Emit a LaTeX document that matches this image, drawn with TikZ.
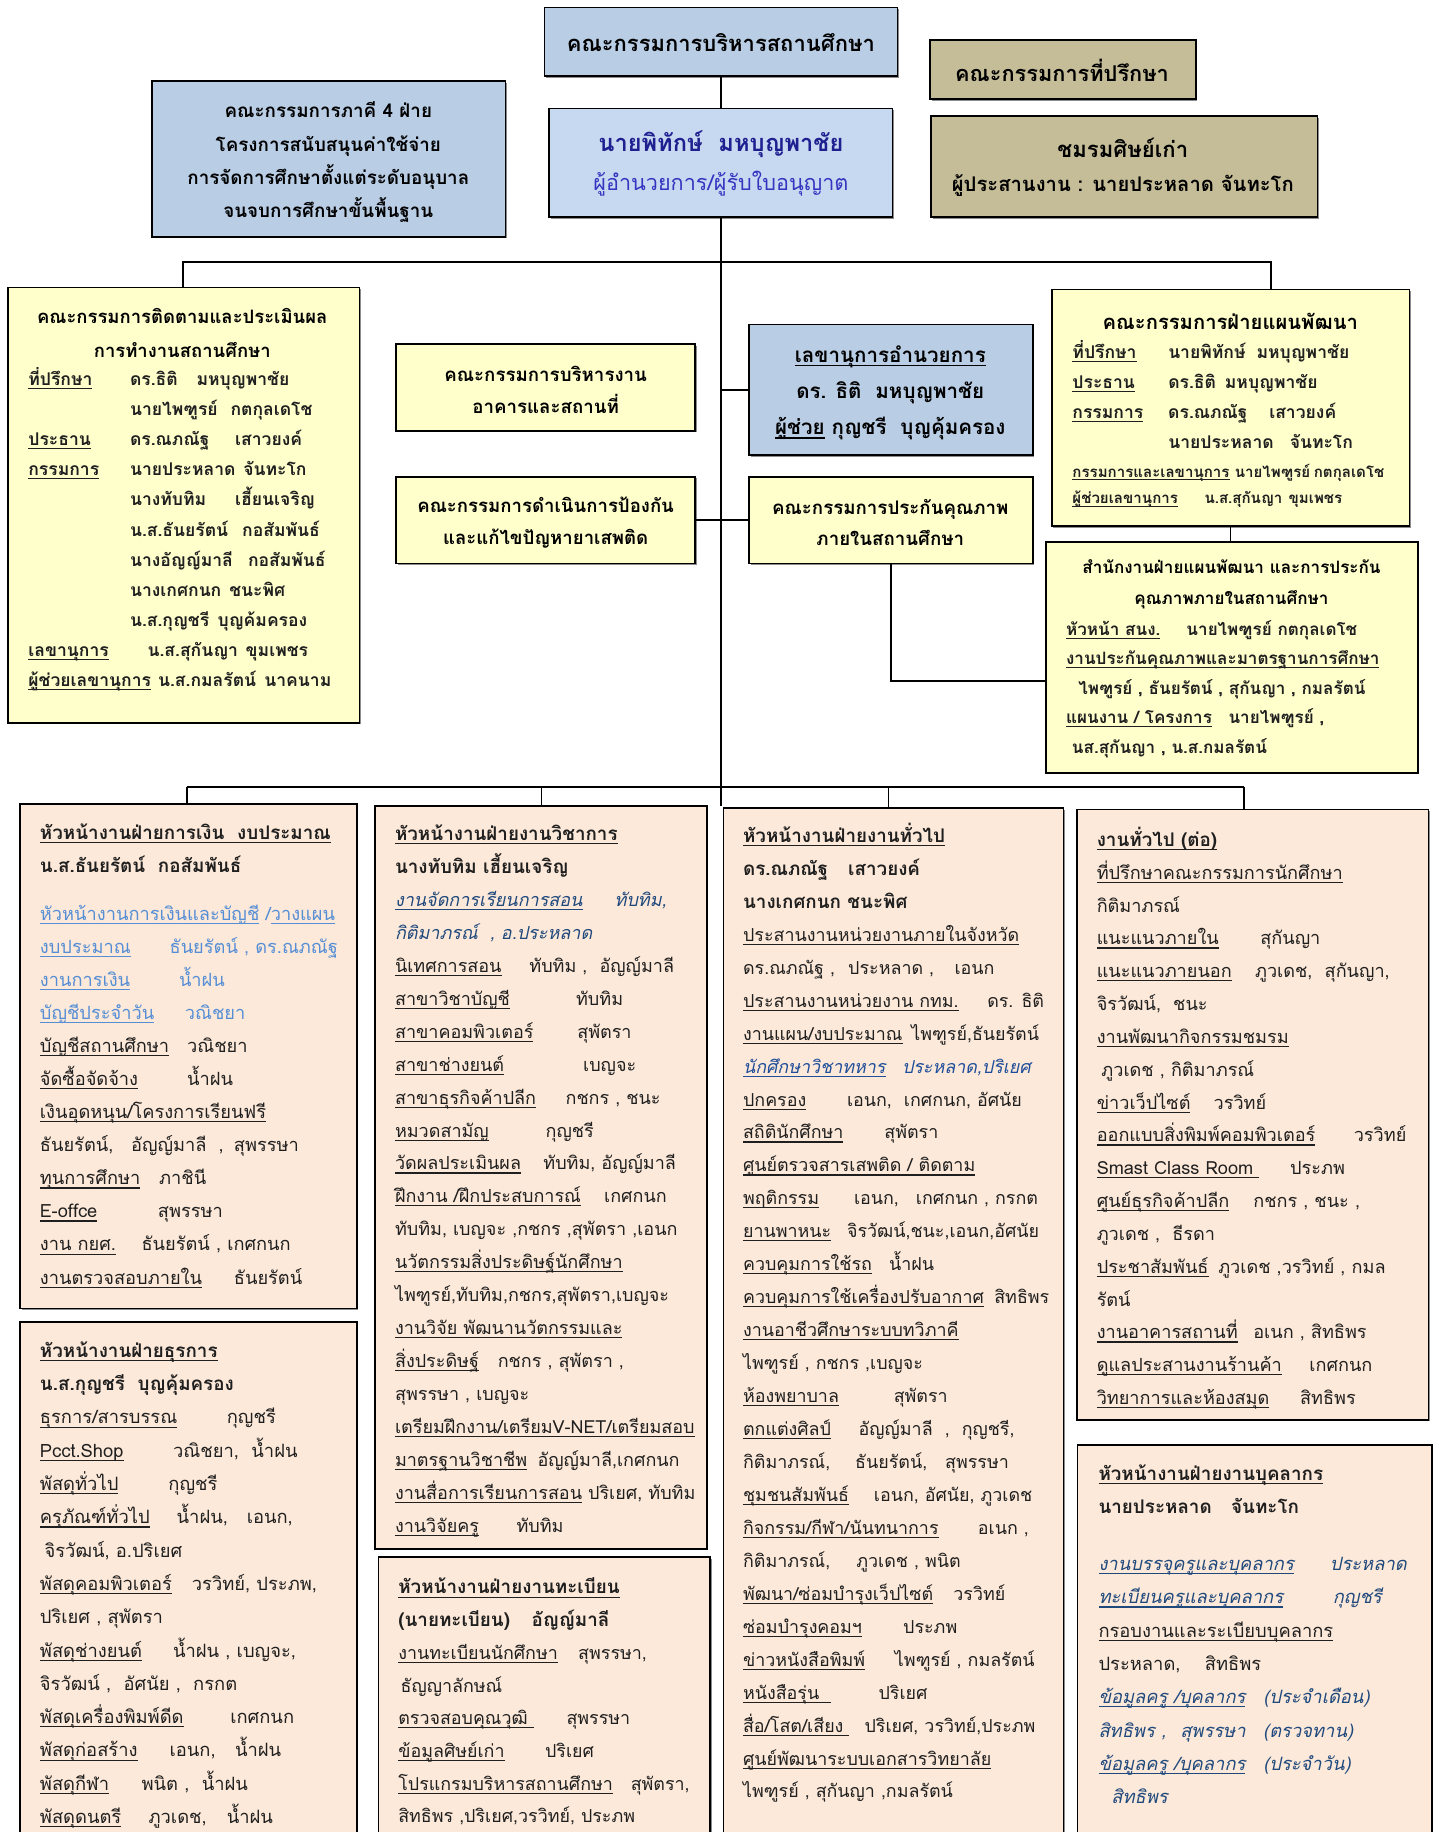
\documentclass[tikz,border=0pt]{standalone}
\usepackage{fontspec}
\setmainfont[Script=Thai]{Loma}
\usetikzlibrary{fit,shadows}
\definecolor{cblue}{HTML}{B9CDE5}
\definecolor{cdir}{HTML}{C6D9F1}
\definecolor{ckhaki}{HTML}{C4BD97}
\definecolor{cyel}{HTML}{FFFFCC}
\definecolor{cpeach}{HTML}{FDE9D9}
\definecolor{tnavy}{HTML}{1F2090}
\definecolor{tblue}{HTML}{3535C0}
\definecolor{tlight}{HTML}{558ED5}
\definecolor{tital}{HTML}{1F497D}
\definecolor{tgen}{HTML}{1F4E9A}
\newcommand\uln[1]{\leavevmode\setbox0\hbox{#1}\rlap{\rule[-0.2em]{\wd0}{0.06em}}\box0\relax}
\newcommand\tb[2]{\makebox[#1pt][l]{#2}}
\newcommand\fsz[2]{\fontsize{#1}{#2}\selectfont}
\newcommand\hd[1]{{\fontsize{16.1}{10}\selectfont\bfseries #1}}
\tikzset{
  bx/.style={draw=black, line width=1.4pt, inner sep=0pt, outer sep=0pt,
    drop shadow={shadow xshift=1.4pt, shadow yshift=-1.4pt, fill=black!45, opacity=1}},
  ln/.style={line width=1.4pt, draw=black},
  lst/.style={anchor=north west, inner sep=0pt, outer sep=0pt, align=left, text=black!88},
  ctr/.style={anchor=center, inner sep=0pt, outer sep=0pt, align=center, text=black},
}
\begin{document}
\begin{tikzpicture}[x=1pt,y=-1pt]
\useasboundingbox (0,0) rectangle (1230,1568);
\clip (0,0) rectangle (1230,1568);
\fill[white] (0,0) rectangle (1230,1568);

% ---------- boxes ----------
\node[bx,fill=cblue,fit={(466,6.3)(768,65)}] (top) {};
\node[bx,fill=ckhaki,fit={(796,34)(1023.5,85)}] (adv) {};
\node[bx,fill=cblue,fit={(130,69.3)(432.5,202.6)}] (quad) {};
\node[bx,fill=cdir,fit={(470,93)(764,186)}] (dir) {};
\node[bx,fill=ckhaki,fit={(797,99.3)(1127.5,186)}] (alum) {};
\node[bx,fill=cyel,fit={(7.1,246)(307.6,618.6)}] (mon) {};
\node[bx,fill=cyel,fit={(339,294.5)(595,368.7)}] (bld) {};
\node[bx,fill=cblue,fit={(641,277.6)(884,389.5)}] (sec) {};
\node[bx,fill=cyel,fit={(339,408)(595,482.2)}] (drug) {};
\node[bx,fill=cyel,fit={(641,408)(884,482.2)}] (qa) {};
\node[bx,fill=cyel,fit={(900.2,247.7)(1206.3,450.3)}] (comm) {};
\node[bx,fill=cyel,fit={(895.3,463.7)(1213.4,661.4)}] (ofc) {};
\node[bx,fill=cpeach,fit={(17.1,688.3)(305.3,1120)}] (fin) {};
\node[bx,fill=cpeach,fit={(321,689.8)(604.9,1325.5)}] (acad) {};
\node[bx,fill=cpeach,fit={(323.8,1332.5)(607.7,1590)}] (reg) {};
\node[bx,fill=cpeach,fit={(619.1,691.7)(910.1,1590)}] (gen) {};
\node[bx,fill=cpeach,fit={(921.6,692.8)(1222.6,1215.1)}] (genx) {};
\node[bx,fill=cpeach,fit={(922.2,1236.8)(1225.5,1590)}] (pers) {};
\node[bx,fill=cpeach,fit={(17.1,1131.3)(305.3,1590)}] (busi) {};

% ---------- connectors ----------
\coordinate (tend) at (617,690);
\coordinate (b1l) at (156.5,224);
\coordinate (b1r) at (1088,224);
\coordinate (qj) at (895.3,583);
\coordinate (b2l) at (160,673.5);
\coordinate (b2r) at (1064.8,673.5);
\coordinate (d2) at (463.6,673.5);
\coordinate (d3) at (760.4,673.5);
\draw[ln] (top.south) -- (dir.north);
\draw[ln] (dir.south) -- (tend);
\draw[ln] (b1l |- mon.north) -- (b1l) -- (b1r) -- (b1r |- comm.north);
\draw[ln] (sec.west) -- (sec.west -| tend);
\draw[ln] (drug.east) -- (qa.west);
\draw[ln] (qa.south) |- (qj);
\draw[ln] (comm.south) -- (comm.south |- ofc.north);
\draw[ln] (b2l) -- (b2r);
\draw[ln] (b2l) -- (b2l |- fin.north);
\draw[ln] (d2) -- (d2 |- acad.north);
\draw[ln] (d3) -- (d3 |- gen.north);
\draw[ln] (b2r) -- (b2r |- genx.north);

% ---------- top texts ----------
\node[ctr,font=\bfseries\fsz{18.8}{22}] (t-top) at (617,36.5) {คณะกรรมการบริหารสถานศึกษา};
\node[ctr,font=\bfseries\fsz{18.6}{20}] (t-adv) at (909,60) {คณะกรรมการที่ปรึกษา};
\node[ctr,font=\bfseries\fsz{16.1}{28.3}] (t-quad) at (281,138.7) {คณะกรรมการภาคี 4 ฝ่าย\\โครงการสนับสนุนค่าใช้จ่าย\\การจัดการศึกษาตั้งแต่ระดับอนุบาล\\จนจบการศึกษาขั้นพื้นฐาน};
\node[ctr,font=\fsz{18}{33}] (t-dir) at (617,139.7) {{\bfseries\color{tnavy}\fsz{20.2}{33}นายพิทักษ์\ \ มหบุญพาชัย}\\{\color{tblue}\fsz{18.5}{33}ผู้อำนวยการ/ผู้รับใบอนุญาต}};
\node[ctr,font=\bfseries\fsz{17.3}{29}] (t-alum) at (961,143) {{\fsz{18.9}{29}ชมรมศิษย์เก่า}\\ผู้ประสานงาน : นายประหลาด จันทะโก};

% ---------- middle texts ----------
\node[ctr,font=\bfseries\fsz{15.8}{29}] (t-mon1) at (156,285) {คณะกรรมการติดตามและประเมินผล\\การทำงานสถานศึกษา};
\node[lst,font=\bfseries\fsz{15}{25.8},yshift=13.6pt] (t-mon2) at (24.3,325.3) {\strut\tb{87}{\uln{ที่ปรึกษา}}\tb{57}{ดร.ธิติ}มหบุญพาชัย\\
\tb{87}{}\tb{86}{นายไพฑูรย์}กตกุลเดโช\\
\tb{87}{\uln{ประธาน}}\tb{90}{ดร.ณภณัฐ}เสาวยงค์\\
\tb{87}{\uln{กรรมการ}}\tb{97}{นายประหลาด}จันทะโก\\
\tb{87}{}\tb{90}{นางทับทิม}เฮี้ยนเจริญ\\
\tb{87}{}\tb{96}{น.ส.ธันยรัตน์}กอสัมพันธ์\\
\tb{87}{}\tb{101}{นางอัญญ์มาลี}กอสัมพันธ์\\
\tb{87}{}\tb{85}{นางเกศกนก}ชนะพิศ\\
\tb{87}{}\tb{75}{น.ส.กุญชรี}บุญค้มครอง\\
\tb{102}{\uln{เลขานุการ}}\tb{84}{น.ส.สุกันญา}ขุมเพชร\\
\tb{111}{\uln{ผู้ช่วยเลขานุการ}}\tb{91}{น.ส.กมลรัตน์}นาคนาม};

\node[ctr,font=\bfseries\fsz{16}{27.5}] (t-bld) at (467,333.7) {คณะกรรมการบริหารงาน\\อาคารและสถานที่};
\node[ctr,font=\bfseries\fsz{17.6}{31}] (t-sec) at (762,336) {\uln{เลขานุการอำนวยการ}\\ดร. ธิติ\ \ มหบุญพาชัย\\\uln{ผู้ช่วย} กุญชรี\ \ บุญคุ้มครอง};
\node[ctr,font=\bfseries\fsz{15.9}{27}] (t-drug) at (467,447.3) {คณะกรรมการดำเนินการป้องกัน\\และแก้ไขปัญหายาเสพติด};
\node[ctr,font=\bfseries\fsz{16}{27}] (t-qa) at (762,447.3) {คณะกรรมการประกันคุณภาพ\\ภายในสถานศึกษา};

\node[ctr,font=\bfseries\fsz{17.3}{20}] (t-comm1) at (1053,275.4) {คณะกรรมการฝ่ายแผนพัฒนา};
\node[lst,font=\bfseries\fsz{15}{25.7},yshift=13.5pt] (t-comm2) at (917.9,302.5) {\strut\tb{82}{\uln{ที่ปรึกษา}}\tb{75.6}{นายพิทักษ์}มหบุญพาชัย\\
\tb{82}{\uln{ประธาน}}\tb{48.5}{ดร.ธิติ}มหบุญพาชัย\\
\tb{82}{\uln{กรรมการ}}\tb{86.5}{ดร.ณภณัฐ}เสาวยงค์\\
\tb{82}{}\tb{104}{นายประหลาด}จันทะโก};
\node[lst,font=\bfseries\fsz{12.9}{22.8},yshift=12.1pt] (t-comm3) at (917.9,404.6) {\strut\tb{139}{\uln{กรรมการและเลขานุการ}}\tb{67.6}{นายไพฑูรย์}กตกุลเดโช\\
\tb{113}{\uln{ผู้ช่วยเลขานุการ}}\tb{72}{น.ส.สุกันญา}ขุมเพชร};

\node[ctr,font=\bfseries\fsz{14.6}{27.1}] (t-ofc1) at (1054,500) {สำนักงานฝ่ายแผนพัฒนา และการประกัน\\คุณภาพภายในสถานศึกษา};
\node[lst,font=\bfseries\fsz{14.6}{25.3},yshift=13.3pt] (t-ofc2) at (912.5,539.3) {\strut\tb{103}{\uln{หัวหน้า สนง.}}นายไพฑูรย์ กตกุลเดโช\\
\uln{งานประกันคุณภาพและมาตรฐานการศึกษา}\\
\hspace*{10.5pt}ไพฑูรย์ , ธันยรัตน์ , สุกันญา , กมลรัตน์\\
\tb{139}{\uln{แผนงาน / โครงการ}}นายไพฑูรย์ ,\\
\hspace*{5pt}นส.สุกันญา , น.ส.กมลรัตน์};

% ---------- finance ----------
\node[lst,font=\fsz{15.6}{28.3},yshift=15.1pt] (t-fin) at (34.2,713.4) {\strut\hd{\uln{หัวหน้างานฝ่ายการเงิน\ \ งบประมาณ}}\\
\hd{น.ส.ธันยรัตน์\ \ กอสัมพันธ์}\\[13pt]
{\color{tlight}\uln{หัวหน้างานการเงินและบัญชี} /\uln{วางแผน}}\\
{\color{tlight}\tb{111}{\uln{งบประมาณ}}ธันยรัตน์ , ดร.ณภณัฐ}\\
{\color{tlight}\tb{119}{\uln{งานการเงิน}}น้ำฝน}\\
{\color{tlight}\tb{124}{\uln{บัญชีประจำวัน}}วณิชยา}\\
\tb{126}{\uln{บัญชีสถานศึกษา}}วณิชยา\\
\tb{126}{\uln{จัดซื้อจัดจ้าง}}น้ำฝน\\
\uln{เงินอุดหนุน/โครงการเรียนฟรี}\\
\tb{78}{ธันยรัตน์,}\tb{75}{อัญญ์มาลี}\tb{13}{,}สุพรรษา\\
\tb{102}{\uln{ทุนการศึกษา}}ภาชินี\\
\tb{101}{\uln{E-offce}}สุพรรษา\\
\tb{87}{\uln{งาน กยศ.}}ธันยรัตน์ , เกศกนก\\
\tb{166}{\uln{งานตรวจสอบภายใน}}ธันยรัตน์};

% ---------- academic ----------
\node[lst,font=\fsz{15.4}{28.2},yshift=15.1pt] (t-acad) at (338.1,714.7) {\strut\hd{\uln{หัวหน้างานฝ่ายงานวิชาการ}}\\
\hd{นางทับทิม เฮี้ยนเจริญ}\\
{\itshape\color{tital}\tb{188}{\uln{งานจัดการเรียนการสอน}}ทับทิม,}\\
{\itshape\color{tital}กิติมาภรณ์\ \ , อ.ประหลาด}\\
\tb{115}{\uln{นิเทศการสอน}}ทับทิม ,\ \ อัญญ์มาลี\\
\tb{155}{\uln{สาขาวิชาบัญชี}}ทับทิม\\
\tb{156}{\uln{สาขาคอมพิวเตอร์}}สุพัตรา\\
\tb{161}{\uln{สาขาช่างยนต์}}เบญจะ\\
\tb{146}{\uln{สาขาธุรกิจค้าปลีก}}กชกร , ชนะ\\
\tb{129}{\uln{หมวดสามัญ}}กุญชรี\\
\tb{127}{\uln{วัดผลประเมินผล}}ทับทิม, อัญญ์มาลี\\
\tb{179}{\uln{ฝึกงาน /ฝึกประสบการณ์}}เกศกนก\\
ทับทิม, เบญจะ ,กชกร ,สุพัตรา ,เอนก\\
\uln{นวัตกรรมสิ่งประดิษฐ์นักศึกษา}\\
ไพฑูรย์,ทับทิม,กชกร,สุพัตรา,เบญจะ\\
\uln{งานวิจัย พัฒนานวัตกรรมและ}\\
\tb{88}{\uln{สิ่งประดิษฐ์}}กชกร , สุพัตรา ,\\
สุพรรษา , เบญจะ\\
\uln{เตรียมฝึกงาน/เตรียมV-NET/เตรียมสอบ}\\
\tb{122}{\uln{มาตรฐานวิชาชีพ}}อัญญ์มาลี,เกศกนก\\
\uln{งานสื่อการเรียนการสอน} ปริเยศ, ทับทิม\\
\tb{104}{\uln{งานวิจัยครู}}ทับทิม};

% ---------- registration ----------
\node[lst,font=\fsz{15.3}{28},yshift=15pt] (t-reg) at (340.9,1359.6) {\strut\hd{\uln{หัวหน้างานฝ่ายงานทะเบียน}}\\
\hd{\tb{114}{(นายทะเบียน)}อัญญ์มาลี}\\
\tb{154}{\uln{งานทะเบียนนักศึกษา}}สุพรรษา,\\
\hspace*{2pt}ธัญญาลักษณ์\\
\tb{144}{\uln{ตรวจสอบคุณวุฒิ\ }}สุพรรษา\\
\tb{125.6}{\uln{ข้อมูลศิษย์เก่า}}ปริเยศ\\
\tb{199}{\uln{โปรแกรมบริหารสถานศึกษา}}สุพัตรา,\\
สิทธิพร ,ปริเยศ,วรวิทย์, ประภพ};

% ---------- general ----------
\node[lst,font=\fsz{15.3}{28.2},yshift=15.1pt] (t-gen) at (636,716.4) {\strut\hd{\uln{หัวหน้างานฝ่ายงานทั่วไป}}\\
\hd{\tb{90}{ดร.ณภณัฐ}เสาวยงค์}\\
\hd{นางเกศกนก ชนะพิศ}\\
\uln{ประสานงานหน่วยงานภายในจังหวัด}\\
\tb{90}{ดร.ณภณัฐ ,}\tb{91}{ประหลาด ,}เอนก\\
\tb{209}{\uln{ประสานงานหน่วยงาน กทม.}}ดร. ธิติ\\
\tb{144}{\uln{งานแผน/งบประมาณ}}ไพฑูรย์,ธันยรัตน์\\
{\itshape\color{tgen}\tb{136}{\uln{นักศึกษาวิชาทหาร}}ประหลาด,ปริเยศ}\\
\tb{89}{\uln{ปกครอง}}เอนก,\ \ เกศกนก, อัศนัย\\
\tb{121}{\uln{สถิตินักศึกษา}}สุพัตรา\\
\uln{ศูนย์ตรวจสารเสพติด / ติดตาม}\\
\tb{95}{\uln{พฤติกรรม}}\tb{53}{เอนก,}เกศกนก , กรกต\\
\tb{89}{\uln{ยานพาหนะ}}จิรวัฒน์,ชนะ,เอนก,อัศนัย\\
\tb{125}{\uln{ควบคุมการใช้รถ}}น้ำฝน\\
\tb{215}{\uln{ควบคุมการใช้เครื่องปรับอากาศ}}สิทธิพร\\
\uln{งานอาชีวศึกษาระบบทวิภาคี}\\
ไพฑูรย์ , กชกร ,เบญจะ\\
\tb{129}{\uln{ห้องพยาบาล}}สุพัตรา\\
\tb{99}{\uln{ตกแต่งศิลป์}}อัญญ์มาลี\ \ ,\ \ กุญชรี,\\
\tb{96}{กิติมาภรณ์,}\tb{77}{ธันยรัตน์,}สุพรรษา\\
\tb{112}{\uln{ชุมชนสัมพันธ์}}เอนก, อัศนัย, ภูวเดช\\
\tb{201}{\uln{กิจกรรม/กีฬา/นันทนาการ}}อเนก ,\\
\tb{97}{กิติมาภรณ์,}ภูวเดช , พนิต\\
\tb{180}{\uln{พัฒนา/ซ่อมบำรุงเว็ปไซต์}}วรวิทย์\\
\tb{137}{\uln{ซ่อมบำรุงคอมฯ}}ประภพ\\
\tb{130}{\uln{ข่าวหนังสือพิมพ์}}ไพฑูรย์ , กมลรัตน์\\
\tb{116}{\uln{หนังสือรุ่น\ \ }}ปริเยศ\\
\tb{104}{\uln{สื่อ/โสต/เสียง\ }}ปริเยศ, วรวิทย์,ประภพ\\
\uln{ศูนย์พัฒนาระบบเอกสารวิทยาลัย}\\
ไพฑูรย์ , สุกันญา ,กมลรัตน์};

% ---------- general (cont) ----------
\node[lst,font=\fsz{15.5}{28.1},yshift=15pt] (t-genx) at (938.7,719.8) {\strut\hd{\uln{งานทั่วไป (ต่อ)}}\\
\uln{ที่ปรึกษาคณะกรรมการนักศึกษา}\\
กิติมาภรณ์\\
\tb{140}{\uln{แนะแนวภายใน}}สุกันญา\\
\tb{135.5}{\uln{แนะแนวภายนอก}}ภูวเดช,\ \ สุกันญา,\\
จิรวัฒน์,\ \ ชนะ\\
\uln{งานพัฒนากิจกรรมชมรม}\\
\hspace*{4pt}ภูวเดช , กิติมาภรณ์\\
\tb{100}{\uln{ข่าวเว็ปไซต์}}วรวิทย์\\
\tb{220}{\uln{ออกแบบสิ่งพิมพ์คอมพิวเตอร์}}วรวิทย์\\
\tb{165.5}{\uln{Smast Class Room\ }}ประภพ\\
\tb{134}{\uln{ศูนย์ธุรกิจค้าปลีก}}กชกร , ชนะ ,\\
ภูวเดช ,\ \ ธีรดา\\
\tb{104}{\uln{ประชาสัมพันธ์}}ภูวเดช ,วรวิทย์ , กมล\\
รัตน์\\
\tb{134}{\uln{งานอาคารสถานที่}}อเนก , สิทธิพร\\
\tb{182}{\uln{ดูแลประสานงานร้านค้า}}เกศกนก\\
\tb{174}{\uln{วิทยาการและห้องสมุด}}สิทธิพร};

% ---------- business ----------
\node[lst,font=\fsz{15.7}{28.5},yshift=15.2pt] (t-busi) at (34.2,1157) {\strut\hd{\uln{หัวหน้างานฝ่ายธุรการ}}\\
\hd{น.ส.กุญชรี\ \ บุญคุ้มครอง}\\
\tb{160}{\uln{ธุรการ/สารบรรณ}}กุญชรี\\
\tb{114}{\uln{Pcct.Shop}}วณิชยา,\ \ น้ำฝน\\
\tb{110}{\uln{พัสดุทั่วไป}}กุญชรี\\
\tb{117}{\uln{ครุภัณฑ์ทั่วไป}}\tb{60}{น้ำฝน,}เอนก,\\
\hspace*{4pt}จิรวัฒน์, อ.ปริเยศ\\
\tb{130}{\uln{พัสดุคอมพิวเตอร์}}วรวิทย์, ประภพ,\\
ปริเยศ , สุพัตรา\\
\tb{114}{\uln{พัสดุช่างยนต์}}น้ำฝน , เบญจะ,\\
จิรวัฒน์ ,\ \ อัศนัย ,\ \ กรกต\\
\tb{163}{\uln{พัสดุเครื่องพิมพ์ดีด}}เกศกนก\\
\tb{111}{\uln{พัสดุก่อสร้าง}}\tb{56}{เอนก,}น้ำฝน\\
\tb{87}{\uln{พัสดุกีฬา}}พนิต ,\ \ น้ำฝน\\
\tb{93}{\uln{พัสดุดนตรี}}\tb{67}{ภูวเดช,}น้ำฝน};

% ---------- personnel ----------
\node[lst,font=\fsz{15.7}{28.5},yshift=15.2pt] (t-pers) at (940.2,1262.5) {\strut\hd{\uln{หัวหน้างานฝ่ายงานบุคลากร}}\\
\hd{\tb{113.5}{นายประหลาด}จันทะโก}\\[20pt]
{\itshape\color{tital}\tb{198}{\uln{งานบรรจุครูและบุคลากร}}ประหลาด}\\
{\itshape\color{tital}\tb{200.5}{\uln{ทะเบียนครูและบุคลากร}}กุญชรี}\\
\uln{กรอบงานและระเบียบบุคลากร}\\
\tb{91}{ประหลาด,}สิทธิพร\\
{\itshape\color{tital}\tb{141}{\uln{ข้อมูลครู /บุคลากร}}(ประจำเดือน)}\\
{\itshape\color{tital}\tb{70}{สิทธิพร ,}\tb{71}{สุพรรษา}(ตรวจทาน)}\\
{\itshape\color{tital}\tb{141}{\uln{ข้อมูลครู /บุคลากร}}(ประจำวัน)}\\
{\itshape\color{tital}\hspace*{11pt}สิทธิพร}};
\end{tikzpicture}
\end{document}
